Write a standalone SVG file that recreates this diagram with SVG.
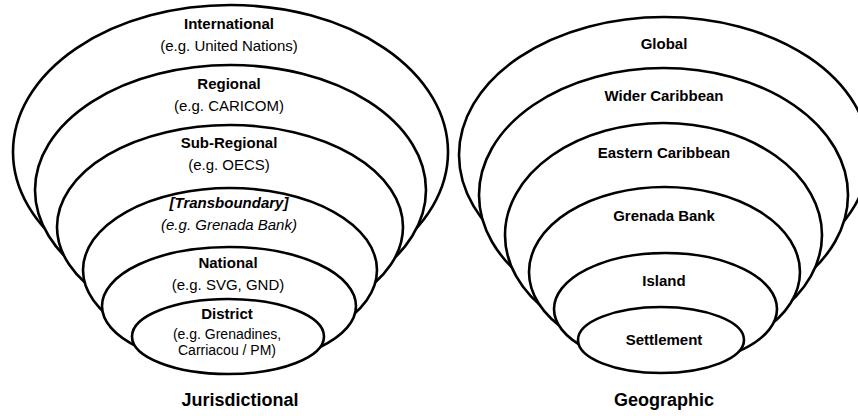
<svg xmlns="http://www.w3.org/2000/svg" width="858" height="416" viewBox="0 0 858 416">
<style>
  .ring { fill: #ffffff; stroke: #000000; stroke-width: 2.6; }
  .t { font-family: "Liberation Sans", Arial, sans-serif; font-size: 15px; fill: #000; text-anchor: middle; }
  .b { font-weight: bold; }
  .i { font-style: italic; }
  .s { font-size: 14px; }
  .title { font-family: "Liberation Sans", Arial, sans-serif; font-size: 18px; font-weight: bold; fill: #000; text-anchor: middle; }
</style>
<rect width="858" height="416" fill="#ffffff"/>

<g id="jurisdictional">
  <g id="international">
    <ellipse class="ring" cx="230.5" cy="152" rx="217.5" ry="147"/>
    <text class="t b" x="229" y="29">International</text>
    <text class="t" x="229" y="51">(e.g. United Nations)</text>
  </g>
  <g id="regional">
    <ellipse class="ring" cx="230.5" cy="190" rx="195.5" ry="125"/>
    <text class="t b" x="229" y="89">Regional</text>
    <text class="t" x="229" y="111">(e.g. CARICOM)</text>
  </g>
  <g id="sub-regional">
    <ellipse class="ring" cx="230" cy="227" rx="173" ry="102"/>
    <text class="t b" x="229" y="148">Sub-Regional</text>
    <text class="t" x="229" y="170">(e.g. OECS)</text>
  </g>
  <g id="transboundary">
    <ellipse class="ring" cx="230" cy="270" rx="147" ry="82"/>
    <text class="t b i" x="229" y="208">[Transboundary]</text>
    <text class="t i" x="229" y="230">(e.g. Grenada Bank)</text>
  </g>
  <g id="national">
    <ellipse class="ring" cx="229" cy="306" rx="127" ry="59"/>
    <text class="t b" x="228" y="268">National</text>
    <text class="t" x="228" y="290">(e.g. SVG, GND)</text>
  </g>
  <g id="district">
    <ellipse class="ring" cx="228" cy="336.5" rx="96" ry="37.5"/>
    <text class="t b" x="227" y="319">District</text>
    <text class="t s" x="227" y="339">(e.g. Grenadines,</text>
    <text class="t s" x="227" y="355">Carriacou / PM)</text>
  </g>
  <text id="label-jurisdictional" class="title" x="240" y="406">Jurisdictional</text>
</g>

<g id="geographic">
  <g id="global">
    <ellipse class="ring" cx="664" cy="155" rx="205" ry="138"/>
    <text class="t b" x="664" y="49">Global</text>
  </g>
  <g id="wider-caribbean">
    <ellipse class="ring" cx="663.5" cy="195" rx="184.5" ry="127"/>
    <text class="t b" x="664" y="101">Wider Caribbean</text>
  </g>
  <g id="eastern-caribbean">
    <ellipse class="ring" cx="663.5" cy="235" rx="158.5" ry="112"/>
    <text class="t b" x="664" y="158">Eastern Caribbean</text>
  </g>
  <g id="grenada-bank">
    <ellipse class="ring" cx="664.5" cy="272" rx="135.5" ry="85"/>
    <text class="t b" x="664" y="221">Grenada Bank</text>
  </g>
  <g id="island">
    <ellipse class="ring" cx="665.5" cy="309" rx="111.5" ry="56"/>
    <text class="t b" x="664" y="286">Island</text>
  </g>
  <g id="settlement">
    <ellipse class="ring" cx="661" cy="340" rx="83" ry="33"/>
    <text class="t b" x="664" y="345">Settlement</text>
  </g>
  <text id="label-geographic" class="title" x="664" y="406">Geographic</text>
</g>
</svg>
